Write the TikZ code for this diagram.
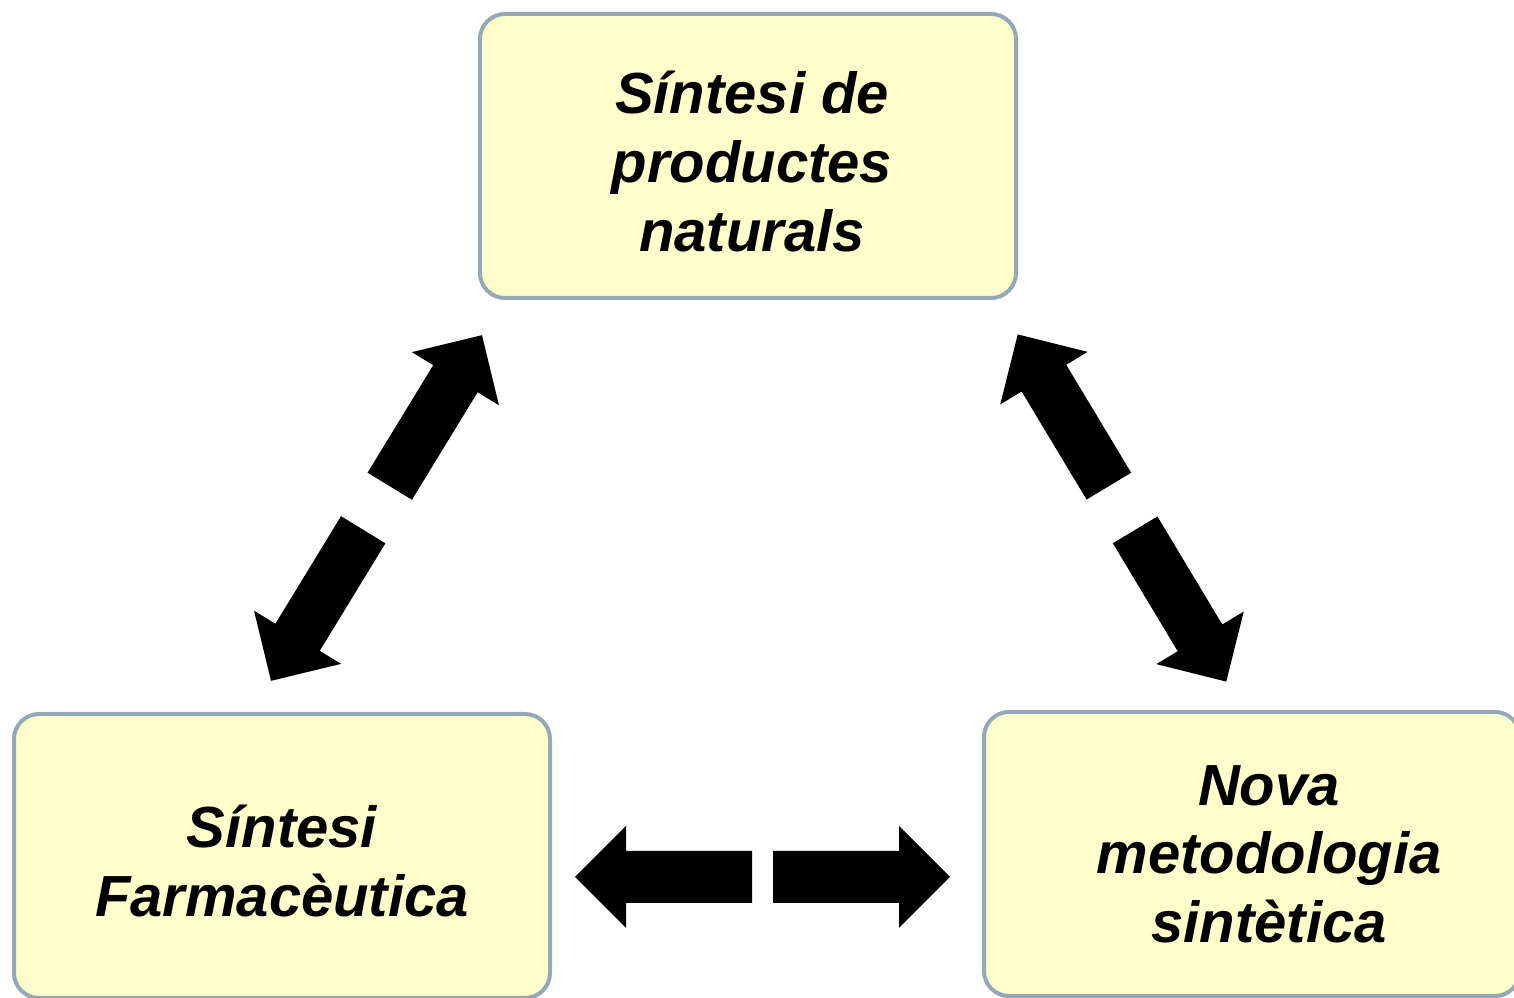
\documentclass[tikz,border=0pt]{standalone}
\usepackage{fontspec}
\setmainfont{Liberation Sans}
\usetikzlibrary{positioning}
\definecolor{boxfill}{RGB}{255,255,204}
\definecolor{boxline}{RGB}{148,168,184}
\def\halfarrow(#1:#2:#3){\fill[shift={(#1)},rotate=#2] (#3,-0.26) -- ++(1.26,0) -- ++(0,-0.25) -- ++(0.51,0.51) -- ++(-0.51,0.51) -- ++(0,-0.25) -- ++(-1.26,0) -- cycle;}
\tikzset{
  topic/.style={draw=boxline, fill=boxfill, line width=0.04cm, rounded corners=0.25cm,
    minimum width=5.36cm, minimum height=2.84cm, inner sep=0pt},
  caption/.style={align=center, inner sep=0pt,
    font=\fontsize{16.5}{19.5}\selectfont\bfseries\itshape}
}
\begin{document}
\begin{tikzpicture}
			%%%%% BOXES %%%%%
			\useasboundingbox (0, 0) rectangle (15.14, 9.98);
			
			\node[topic] (natural) at (7.48, 8.42) {};
			\node[caption] (naturaltext) at ([xshift=0.04cm, yshift=-0.055cm]natural.center) {Síntesi de\\productes\\naturals};
			
			\node[topic] (farma) at (2.82, 1.42) {};
			\node[caption] (farmatext) at ([yshift=-0.05cm]farma.center) {Síntesi\\Farmacèutica};
			
			\node[topic] (metode) at (12.52, 1.44) {};
			\node[caption] (metodetext) at ([xshift=0.17cm]metode.center) {Nova\\metodologia\\sintètica};
			
			%%%%% ARROWS %%%%%
			\coordinate (gapleft) at (3.765, 4.90);
			\coordinate (gapright) at (11.22, 4.90);
			\coordinate (gapbottom) at (7.625, 1.21);
			
			\halfarrow(gapleft:58.6:0.255)
			\halfarrow(gapleft:238.6:0.255)
			
			\halfarrow(gapright:121:0.255)
			\halfarrow(gapright:301:0.255)
			
			\halfarrow(gapbottom:0:0.105)
			\halfarrow(gapbottom:180:0.105)
			
			%%%%% END %%%%%
\end{tikzpicture}
\end{document}
